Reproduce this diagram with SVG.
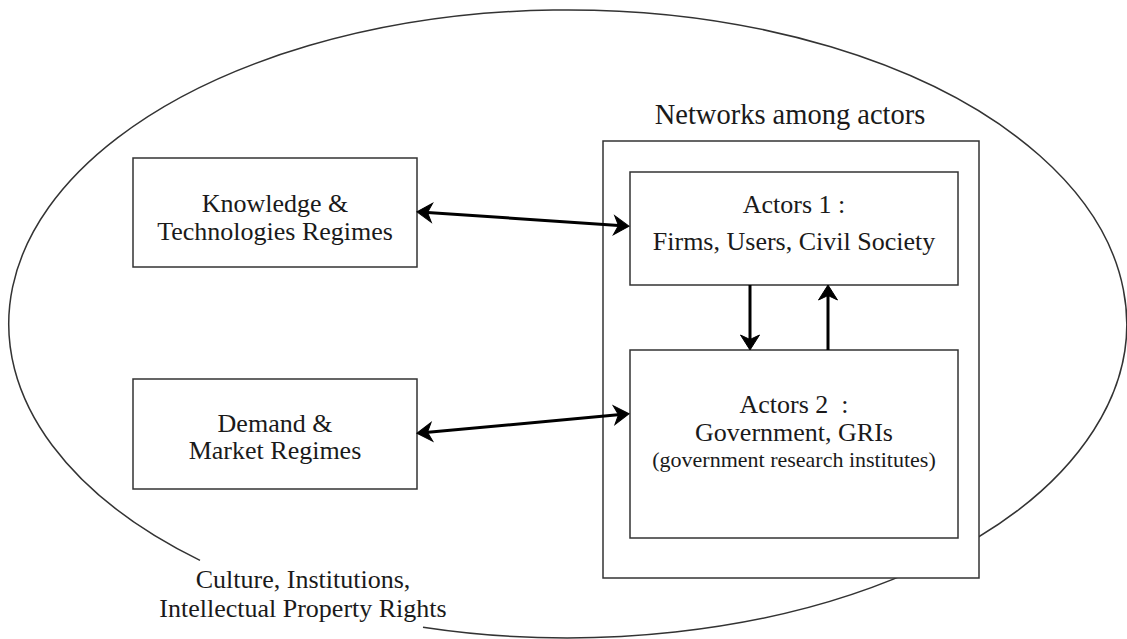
<svg xmlns="http://www.w3.org/2000/svg" width="1127" height="639" viewBox="0 0 1127 639">
  <style>
    .box { fill: #ffffff; stroke: #333333; stroke-width: 1.5; }
    .lbl { font-family: "Liberation Serif", "Times New Roman", serif; font-size: 26px; fill: #1a1a1a; text-anchor: middle; }
    .small { font-size: 22px; }
    .title { font-size: 28.5px; }
    .link { fill: none; stroke: #000000; stroke-width: 3; marker-end: url(#head); }
    .both { marker-start: url(#head); }
  </style>
  <defs>
    <marker id="head" markerUnits="userSpaceOnUse" viewBox="-17 -11 22 22" refX="-3" refY="0" markerWidth="22" markerHeight="22" orient="auto-start-reverse">
      <path d="M0,0 L-15,-9.5 L-10.5,0 L-15,9.5 Z" fill="#000000" stroke="#000000" stroke-width="1" stroke-linejoin="miter"/>
    </marker>
  </defs>
  <rect width="1127" height="639" fill="#ffffff"/>

  <!-- surrounding context: open ellipse with a gap for its caption -->
  <g id="context">
    <path d="M200,560.4 A559,314 0 1 1 423,627.2" fill="none" stroke="#333333" stroke-width="1.5"/>
    <text class="lbl" x="303" y="588">Culture, Institutions,</text>
    <text class="lbl" x="303" y="617">Intellectual Property Rights</text>
  </g>

  <g id="knowledge">
    <rect class="box" x="133" y="158" width="284" height="109"/>
    <text class="lbl" x="275" y="212">Knowledge &amp;</text>
    <text class="lbl" x="275" y="240">Technologies Regimes</text>
  </g>

  <g id="demand">
    <rect class="box" x="133" y="379" width="284" height="110"/>
    <text class="lbl" x="275" y="432">Demand &amp;</text>
    <text class="lbl" x="275" y="459">Market Regimes</text>
  </g>

  <g id="networks">
    <text class="lbl title" x="790" y="124">Networks among actors</text>
    <rect class="box" x="603" y="141" width="376" height="437"/>
  </g>

  <g id="actors1">
    <rect class="box" x="630" y="172" width="328" height="113"/>
    <text class="lbl" x="794" y="213">Actors 1 :</text>
    <text class="lbl" x="794" y="250">Firms, Users, Civil Society</text>
  </g>

  <g id="actors2">
    <rect class="box" x="630" y="350" width="328" height="188"/>
    <text class="lbl" x="794" y="413" xml:space="preserve">Actors 2  :</text>
    <text class="lbl" x="794" y="441">Government, GRIs</text>
    <text class="lbl small" x="794" y="467">(government research institutes)</text>
  </g>

  <g id="connectors">
    <line class="link both" x1="420" y1="212" x2="626" y2="226"/>
    <line class="link both" x1="420" y1="433" x2="626" y2="414"/>
    <line class="link" x1="750" y1="285" x2="750" y2="347"/>
    <line class="link" x1="828" y1="350" x2="828" y2="288"/>
  </g>
</svg>
